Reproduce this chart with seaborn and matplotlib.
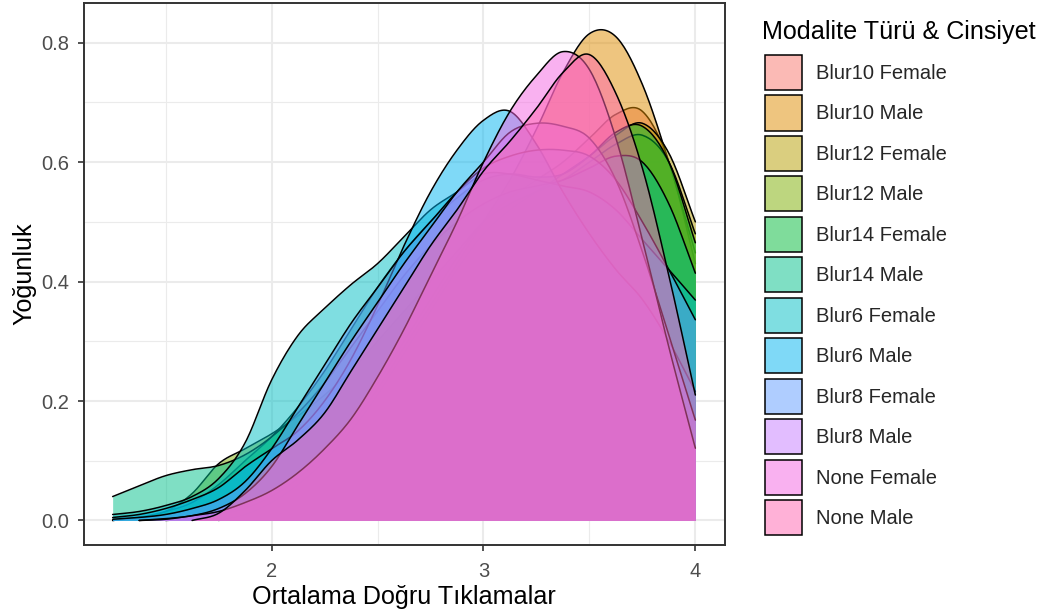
import numpy as np
import pandas as pd
import matplotlib
matplotlib.use("Agg")
import matplotlib.pyplot as plt
import seaborn as sns
from matplotlib.patches import Patch
from matplotlib.colors import to_rgba

nan = np.nan

# Evaluation grid for the density estimates (mean correct clicks)
x_grid = [1.25, 1.375, 1.5, 1.625, 1.75, 1.875, 2.0, 2.125, 2.25, 2.375, 2.5, 2.625,
          2.75, 2.875, 3.0, 3.125, 3.25, 3.375, 3.5, 3.625, 3.75, 3.875, 4.0]

groups = ["Blur10 Female", "Blur10 Male", "Blur12 Female", "Blur12 Male",
          "Blur14 Female", "Blur14 Male", "Blur6 Female", "Blur6 Male",
          "Blur8 Female", "Blur8 Male", "None Female", "None Male"]

# Density values per group on x_grid (nan = outside the group's observed range)
blur10_female = [nan, nan, 0.0, 0.003, 0.01, 0.025, 0.05, 0.08, 0.12, 0.17, 0.23, 0.30,
                 0.37, 0.44, 0.50, 0.54, 0.57, 0.60, 0.64, 0.68, 0.685, 0.60, 0.43]
blur10_male = [nan, nan, nan, 0.004, 0.01, 0.02, 0.04, 0.07, 0.11, 0.16, 0.22, 0.29,
               0.36, 0.43, 0.50, 0.57, 0.655, 0.75, 0.815, 0.81, 0.73, 0.60, 0.448]
blur12_female = [nan, nan, nan, nan, 0.0, 0.01, 0.03, 0.06, 0.10, 0.15, 0.21, 0.28,
                 0.35, 0.42, 0.48, 0.52, 0.55, 0.58, 0.61, 0.645, 0.665, 0.615, 0.50]
blur12_male = [0.0, 0.005, 0.015, 0.045, 0.095, 0.12, 0.145, 0.175, 0.21, 0.25, 0.30, 0.35,
               0.40, 0.45, 0.50, 0.53, 0.55, 0.57, 0.60, 0.63, 0.645, 0.60, 0.48]
blur14_female = [0.0, 0.005, 0.015, 0.03, 0.06, 0.10, 0.14, 0.19, 0.25, 0.32, 0.39, 0.45,
                 0.50, 0.54, 0.57, 0.58, 0.575, 0.58, 0.61, 0.65, 0.66, 0.60, 0.465]
blur14_male = [0.04, 0.058, 0.075, 0.085, 0.092, 0.11, 0.14, 0.18, 0.23, 0.29, 0.35, 0.41,
               0.46, 0.50, 0.53, 0.55, 0.56, 0.57, 0.59, 0.61, 0.60, 0.53, 0.414]
blur6_female = [0.01, 0.015, 0.025, 0.04, 0.07, 0.13, 0.235, 0.31, 0.355, 0.395, 0.43, 0.475,
                0.52, 0.55, 0.58, 0.58, 0.57, 0.56, 0.55, 0.52, 0.47, 0.42, 0.369]
blur6_male = [0.005, 0.01, 0.02, 0.035, 0.055, 0.09, 0.12, 0.15, 0.20, 0.27, 0.36, 0.46,
              0.55, 0.62, 0.67, 0.685, 0.63, 0.55, 0.48, 0.42, 0.37, 0.30, 0.216]
blur8_female = [0.002, 0.005, 0.01, 0.02, 0.035, 0.065, 0.12, 0.19, 0.26, 0.33, 0.39, 0.45,
                0.50, 0.55, 0.59, 0.61, 0.62, 0.62, 0.61, 0.57, 0.50, 0.42, 0.336]
blur8_male = [nan, 0.0, 0.003, 0.008, 0.02, 0.045, 0.09, 0.16, 0.23, 0.30, 0.365, 0.43,
              0.49, 0.55, 0.60, 0.65, 0.665, 0.66, 0.64, 0.57, 0.45, 0.31, 0.168]
none_female = [nan, 0.0, 0.002, 0.008, 0.015, 0.03, 0.05, 0.08, 0.12, 0.17, 0.24, 0.32,
               0.41, 0.50, 0.60, 0.685, 0.745, 0.785, 0.755, 0.64, 0.47, 0.29, 0.121]
none_male = [nan, nan, nan, 0.0, 0.012, 0.05, 0.10, 0.135, 0.18, 0.25, 0.32, 0.39,
             0.46, 0.52, 0.585, 0.635, 0.69, 0.75, 0.78, 0.715, 0.59, 0.41, 0.21]

series = [blur10_female, blur10_male, blur12_female, blur12_male, blur14_female,
          blur14_male, blur6_female, blur6_male, blur8_female, blur8_male,
          none_female, none_male]

hue_colors = ["#F8766D", "#DE8C00", "#B79F00", "#7CAE00", "#00BA38", "#00C08B",
              "#00BFC4", "#00B4F0", "#619CFF", "#C77CFF", "#F564E3", "#FF64B0"]

legend_title = "Modalite Türü & Cinsiyet"

df = pd.DataFrame({
    "grup": np.repeat(groups, len(x_grid)),
    "x": np.tile(x_grid, len(groups)),
    "yogunluk": np.concatenate(series),
}).dropna()


def smooth_curve(xs, ys, per=16):
    """Catmull-Rom pass through the density values for a smooth outline."""
    xs = np.asarray(xs, float)
    ys = np.asarray(ys, float)
    ext = np.concatenate([[2 * ys[0] - ys[1]], ys, [2 * ys[-1] - ys[-2]]])
    t = np.linspace(0, 1, per, endpoint=False)
    out_x, out_y = [], []
    for i in range(len(ys) - 1):
        p0, p1, p2, p3 = ext[i:i + 4]
        yy = 0.5 * (2 * p1 + (-p0 + p2) * t + (2 * p0 - 5 * p1 + 4 * p2 - p3) * t ** 2
                    + (-p0 + 3 * p1 - 3 * p2 + p3) * t ** 3)
        out_x.append(xs[i] + (xs[i + 1] - xs[i]) * t)
        out_y.append(yy)
    out_x.append([xs[-1]])
    out_y.append([ys[-1]])
    return np.concatenate(out_x), np.clip(np.concatenate(out_y), 0, None)


sns.set_theme(style="white")
plt.rcParams["font.family"] = ["Liberation Sans", "DejaVu Sans"]

W, H = 1045, 616
fig = plt.figure(figsize=(W / 100, H / 100), dpi=100)
ax = fig.add_axes([83.5 / W, 1 - 545.1 / H, 641 / W, 542 / H])

palette = dict(zip(groups, sns.color_palette(hue_colors)))

for k, g in enumerate(groups):
    sub = df[df["grup"] == g]
    sx, sy = smooth_curve(sub["x"].values, sub["yogunluk"].values)
    ax.fill_between(sx, 0, sy, color=palette[g], alpha=0.5, linewidth=0,
                    zorder=2 + k * 0.1)
    line_df = pd.DataFrame({"x": sx, "y": sy})
    sns.lineplot(data=line_df, x="x", y="y", color="black", linewidth=1.1,
                 sort=False, estimator=None, ax=ax, zorder=2 + k * 0.1 + 0.05)

ax.set_xlim(1.1125, 4.1375)
ax.set_ylim(-0.04125, 0.86625)
ax.set_xticks([2, 3, 4])
ax.set_xticklabels(["2", "3", "4"])
ax.set_xticks([1.5, 2.5, 3.5], minor=True)
ax.set_yticks([0.0, 0.2, 0.4, 0.6, 0.8])
ax.set_yticklabels(["0.0", "0.2", "0.4", "0.6", "0.8"])
ax.set_yticks([0.1, 0.3, 0.5, 0.7], minor=True)

ax.set_axisbelow(True)
ax.grid(which="major", color="#EBEBEB", linewidth=1.5)
ax.grid(which="minor", color="#EBEBEB", linewidth=0.8)
for sp in ax.spines.values():
    sp.set_color("#333333")
    sp.set_linewidth(1.4)
    sp.set_zorder(10)

ax.tick_params(which="major", direction="out", length=4.5, width=1.2, color="#333333",
               labelsize=14.5, labelcolor="#4D4D4D", bottom=True, left=True)
ax.tick_params(axis="x", which="major", pad=7.5)
ax.tick_params(axis="y", which="major", pad=6)
ax.tick_params(which="minor", length=0)

ax.set_xlabel("Ortalama Doğru Tıklamalar", fontsize=18.1, color="black", labelpad=3)
ax.set_ylabel("Yoğunluk", fontsize=18.1, color="black", labelpad=3)

# Legend: title set as its own text, keys below it
fig.text(762 / W, 1 - 32 / H, legend_title, fontsize=18.1, color="black",
         ha="left", va="center")
handles = [Patch(facecolor=to_rgba(palette[g], 0.5), edgecolor="black", linewidth=1.1)
           for g in groups]
fig.legend(handles, groups, loc="upper left", bbox_to_anchor=(765 / W, 1 - 55 / H),
           frameon=False, fontsize=14.5, handlelength=1.84, handleheight=2.3,
           labelspacing=0.27, handletextpad=0.69, borderpad=0, borderaxespad=0)

fig.savefig("out.png", dpi=100)
